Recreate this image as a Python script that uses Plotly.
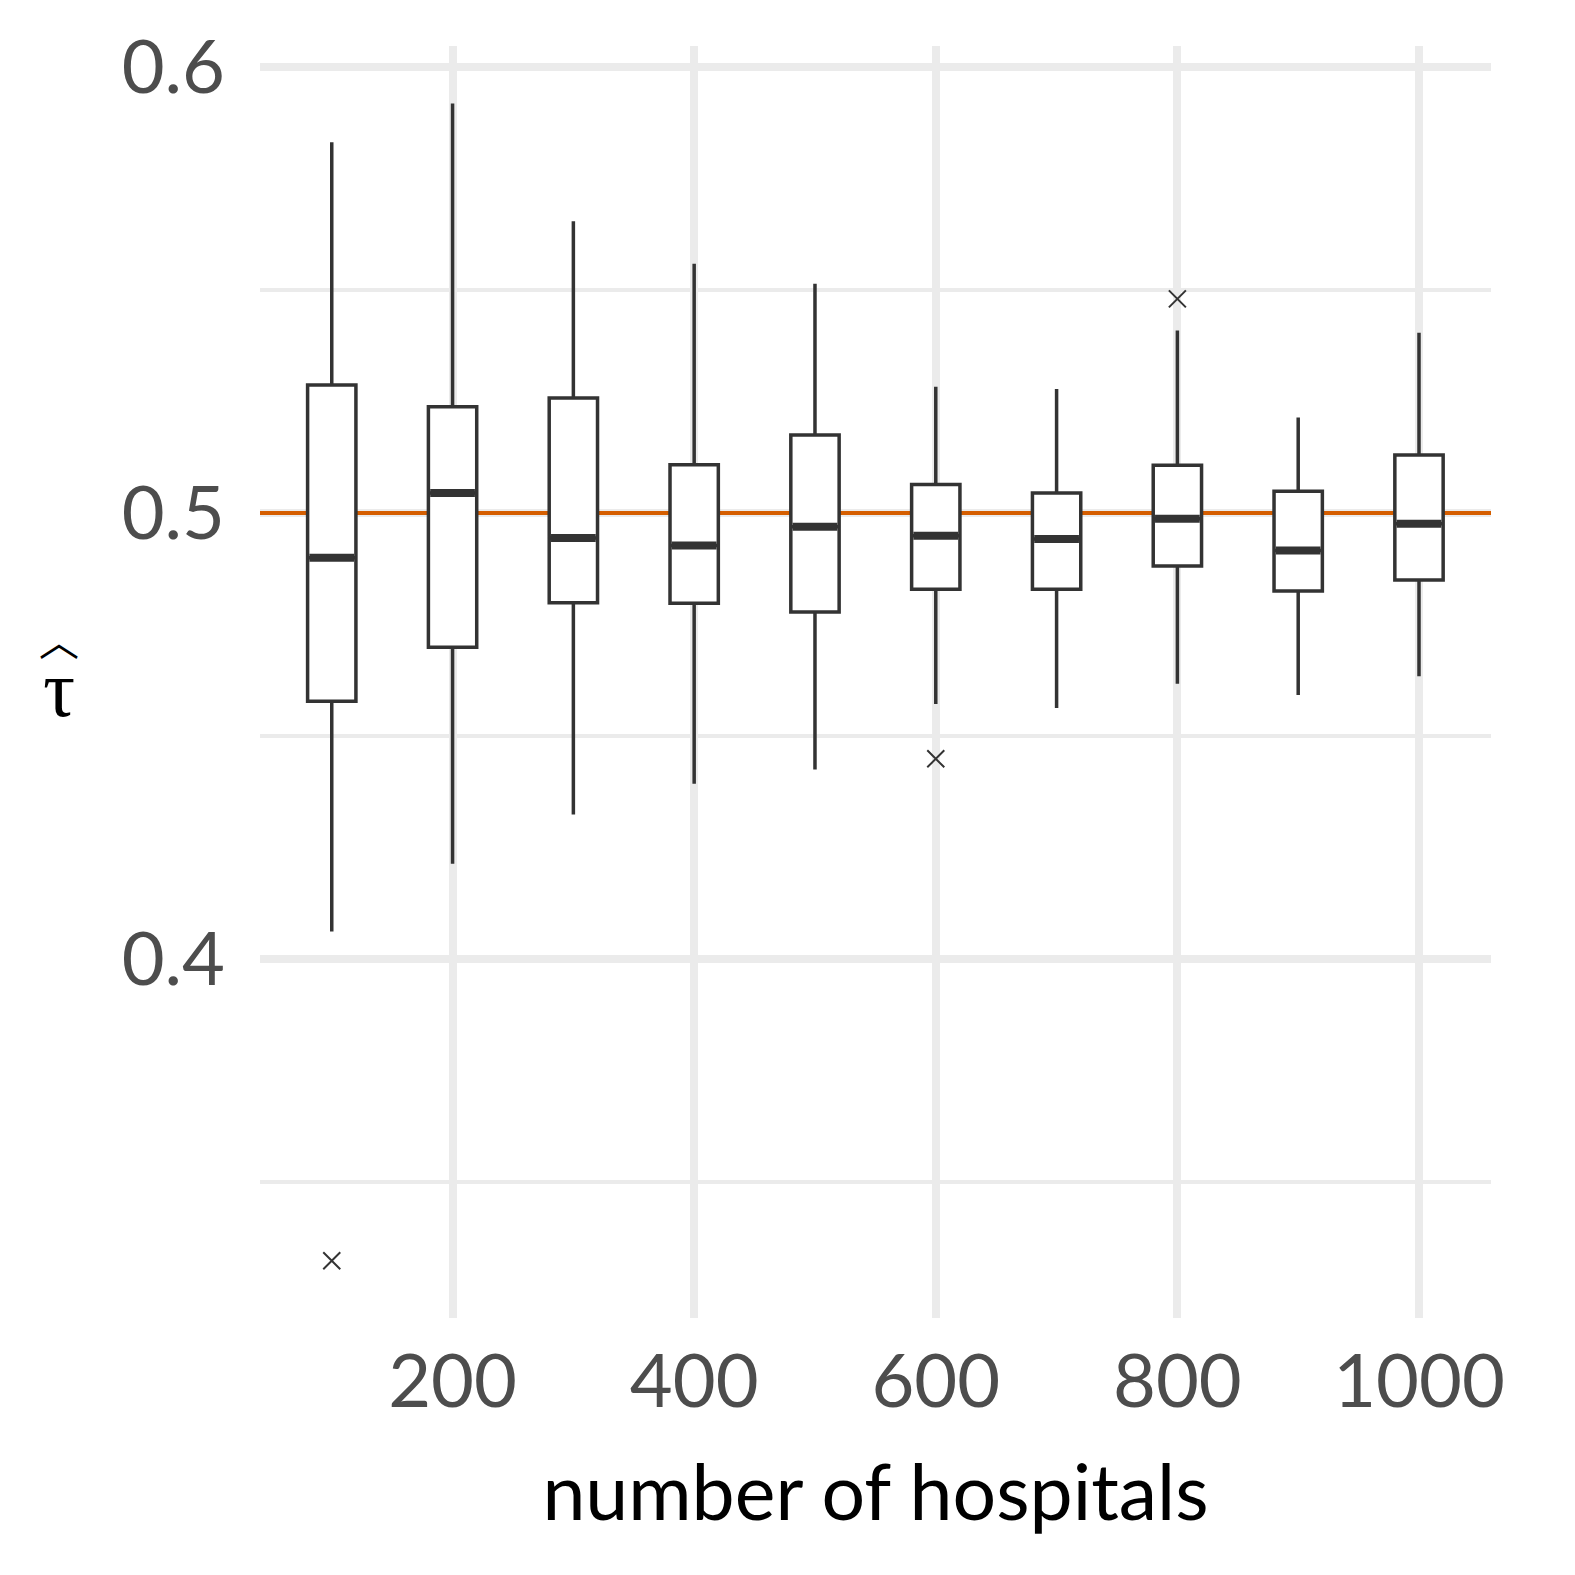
import plotly.graph_objects as go

# simulated estimates of tau, summarised per number of hospitals
hospitals = [100, 200, 300, 400, 500, 600, 700, 800, 900, 1000]
lower = [0.4062, 0.4214, 0.4324, 0.4393, 0.4425, 0.4572, 0.4563, 0.4617, 0.4592, 0.4634]
q1 = [0.4578, 0.4699, 0.4799, 0.4798, 0.4778, 0.4829, 0.4829, 0.4881, 0.4825, 0.4850]
median = [0.4900, 0.5045, 0.4944, 0.4927, 0.4969, 0.4949, 0.4942, 0.4987, 0.4916, 0.4976]
q3 = [0.5287, 0.5238, 0.5258, 0.5108, 0.5175, 0.5064, 0.5045, 0.5107, 0.5049, 0.5130]
upper = [0.5831, 0.5918, 0.5654, 0.5559, 0.5514, 0.5283, 0.5278, 0.5409, 0.5214, 0.5404]

outlier_x = [100, 600, 800]
outlier_y = [0.3324, 0.4449, 0.5480]

true_tau = 0.5
box_width = 40
x_range = [40.6, 1059.6]
y_range = [0.31955, 0.60469]

fig = go.Figure()

# reference line at the true value on the base axes, boxes go on an overlay so they sit on top
fig.add_trace(go.Scatter(x=x_range, y=[true_tau, true_tau], mode='lines',
                         line=dict(color='#D55E00', width=4),
                         showlegend=False, hoverinfo='skip'))

fig.add_trace(go.Box(
    x=hospitals, q1=q1, median=median, q3=q3,
    lowerfence=lower, upperfence=upper,
    width=box_width, whiskerwidth=0,
    fillcolor='white', line=dict(color='#333333', width=3.5),
    boxpoints=False, hoverinfo='skip', showlegend=False,
    xaxis='x2', yaxis='y2'))

# thicker median bars, as in ggplot
mx, my = [], []
for n, m in zip(hospitals, median):
    mx += [n - box_width / 2 + 1.5, n + box_width / 2 - 1.5, None]
    my += [m, m, None]
fig.add_trace(go.Scatter(x=mx, y=my, mode='lines',
                         line=dict(color='#333333', width=8),
                         showlegend=False, hoverinfo='skip',
                         xaxis='x2', yaxis='y2'))

fig.add_trace(go.Scatter(
    x=outlier_x, y=outlier_y, mode='markers',
    marker=dict(symbol='x-thin', size=17, line=dict(color='#333333', width=2)),
    showlegend=False, xaxis='x2', yaxis='y2'))

fig.update_layout(
    xaxis=dict(range=x_range, tick0=0, dtick=200,
               showgrid=True, gridcolor='#EBEBEB', gridwidth=7.5,
               zeroline=False, showline=False,
               tickfont=dict(family='Lato', size=74, color='#4D4D4D'),
               ticklabelstandoff=14,
               title=dict(text='number of hospitals', standoff=44,
                          font=dict(family='Lato', size=77, color='black'))),
    yaxis=dict(range=y_range, tickvals=[0.4, 0.5, 0.6], ticktext=['0.4', '0.5', '0.6'],
               showgrid=True, gridcolor='#EBEBEB', gridwidth=7.5,
               minor=dict(dtick=0.05, tick0=0, showgrid=True,
                          gridcolor='#EBEBEB', gridwidth=3.7),
               zeroline=False, showline=False,
               tickfont=dict(family='Lato', size=74, color='#4D4D4D'),
               ticklabelstandoff=34),
    xaxis2=dict(range=x_range, overlaying='x', visible=False, showgrid=False, zeroline=False),
    yaxis2=dict(range=y_range, overlaying='y', visible=False, showgrid=False, zeroline=False),
)

# y-axis label: tau hat, horizontal
fig.add_annotation(
    text='<span style="font-family:Noto Sans CJK JP;font-size:40px">︿</span><br>'
         '<span style="font-family:Liberation Serif;font-size:80px">τ</span>',
    xref='paper', yref='paper', x=-0.1633, y=0.508,
    xanchor='center', yanchor='middle', showarrow=False,
    font=dict(size=46, color='black'))

fig.update_layout(width=1567, height=1567,
                  margin=dict(l=252, r=84, t=33, b=257),
                  plot_bgcolor='white', paper_bgcolor='white')

fig.write_html("out.html")
